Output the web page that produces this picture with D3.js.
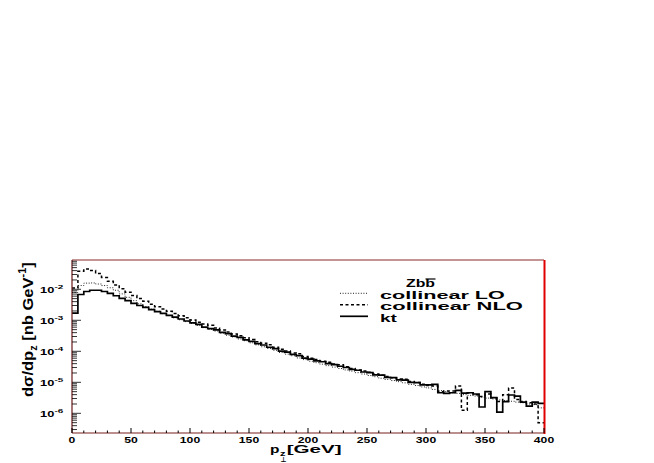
<!DOCTYPE html>
<html>
<head>
<meta charset="utf-8">
<script src="https://cdn.jsdelivr.net/npm/d3@7"></script>
<style>
  html, body { margin: 0; padding: 0; background: #fff; }
  svg { display: block; }
</style>
</head>
<body>
<svg id="chart" width="654" height="463"></svg>
<script>
// ---------------- data ----------------
const binWidth = 5;                     // GeV
const binEdges = d3.range(0, 400 + binWidth, binWidth);
const seriesNames = ["collinear LO", "collinear NLO", "kt"];
const legendHeader = "Zbb";

const collinearLO = [
  7.9e-3, 1.32e-2, 1.58e-2, 1.6e-2, 1.48e-2, 1.32e-2, 1.12e-2, 9.3e-3, 7.1e-3, 5.5e-3,
  4.3e-3, 3.4e-3, 2.75e-3, 2.3e-3, 1.95e-3, 1.64e-3, 1.42e-3, 1.2e-3, 1.04e-3, 9.1e-4,
  7.9e-4, 6.8e-4, 5.8e-4, 5.1e-4, 4.5e-4, 3.85e-4, 3.3e-4, 2.9e-4, 2.5e-4, 2.2e-4,
  1.88e-4, 1.62e-4, 1.4e-4, 1.23e-4, 1.08e-4, 9.2e-5, 8.1e-5, 7.2e-5, 6.1e-5, 5.4e-5,
  4.8e-5, 4.3e-5, 3.85e-5, 3.45e-5, 3.1e-5, 2.8e-5, 2.5e-5, 2.3e-5, 2.05e-5, 1.85e-5,
  1.66e-5, 1.52e-5, 1.35e-5, 1.24e-5, 1.14e-5, 1.05e-5, 9.6e-6, 8.6e-6, 7.9e-6, 7.1e-6,
  6.6e-6, 5.9e-6, 5.4e-6, 5.0e-6, 4.6e-6, 4.4e-6, 4.0e-6, 3.8e-6, 3.6e-6, 3.3e-6,
  3.1e-6, 2.9e-6, 2.7e-6, 2.6e-6, 2.45e-6, 2.3e-6, 2.2e-6, 2.0e-6, 1.9e-6, 1.5e-6
];
const collinearNLO = [
  1.1e-2, 3.8e-2, 4.5e-2, 4.0e-2, 3.2e-2, 2.4e-2, 1.8e-2, 1.38e-2, 1.05e-2, 8.1e-3,
  6.3e-3, 5.0e-3, 4.1e-3, 3.3e-3, 2.75e-3, 2.3e-3, 1.95e-3, 1.66e-3, 1.41e-3, 1.2e-3,
  1.02e-3, 8.7e-4, 7.6e-4, 6.9e-4, 5.6e-4, 4.9e-4, 4.2e-4, 3.6e-4, 3.2e-4, 2.75e-4,
  2.4e-4, 2.05e-4, 1.82e-4, 1.62e-4, 1.35e-4, 1.17e-4, 1.02e-4, 8.9e-5, 8.3e-5, 6.8e-5,
  6.0e-5, 5.4e-5, 4.8e-5, 4.4e-5, 3.9e-5, 3.7e-5, 3.2e-5, 2.8e-5, 2.5e-5, 2.3e-5,
  2.1e-5, 1.86e-5, 1.7e-5, 1.55e-5, 1.4e-5, 1.29e-5, 1.25e-5, 1.07e-5, 9.8e-6, 8.7e-6,
  7.9e-6, 7.6e-6, 5.0e-6, 5.2e-6, 5.2e-6, 7.6e-6, 1.26e-6, 4.5e-6, 4.0e-6, 3.5e-6,
  4.2e-6, 3.2e-6, 2.4e-6, 4.0e-6, 6.5e-6, 2.8e-6, 2.4e-6, 2.2e-6, 2.0e-6, 5.0e-7
];
const kt = [
  1.7e-3, 6.8e-3, 8.5e-3, 9.3e-3, 9.3e-3, 8.5e-3, 7.4e-3, 6.2e-3, 5.1e-3, 4.3e-3,
  3.5e-3, 3.0e-3, 2.6e-3, 2.2e-3, 1.9e-3, 1.66e-3, 1.45e-3, 1.26e-3, 1.1e-3, 9.5e-4,
  8.3e-4, 7.4e-4, 6.0e-4, 5.4e-4, 4.9e-4, 4.1e-4, 3.7e-4, 3.1e-4, 2.8e-4, 2.35e-4,
  2.1e-4, 1.78e-4, 1.6e-4, 1.35e-4, 1.22e-4, 1.02e-4, 9.4e-5, 8.0e-5, 7.3e-5, 6.0e-5,
  5.6e-5, 4.9e-5, 4.6e-5, 4.0e-5, 3.7e-5, 3.3e-5, 3.0e-5, 2.6e-5, 2.45e-5, 2.15e-5,
  2.05e-5, 1.75e-5, 1.7e-5, 1.45e-5, 1.42e-5, 1.2e-5, 1.18e-5, 1.0e-5, 9.8e-6, 8.3e-6,
  8.3e-6, 8.6e-6, 4.6e-6, 4.4e-6, 4.6e-6, 5.5e-6, 4.5e-6, 4.6e-6, 4.2e-6, 1.6e-6,
  5.0e-6, 3.2e-6, 1.1e-6, 2.4e-6, 3.9e-6, 3.6e-6, 2.3e-6, 1.7e-6, 2.3e-6, 2.1e-6
];
const xTickValues = [0, 50, 100, 150, 200, 250, 300, 350, 400];
const xTickLabels = ["0", "50", "100", "150", "200", "250", "300", "350", "400"];
const yTickValues = [1e-2, 1e-3, 1e-4, 1e-5, 1e-6];
const yTickExponents = ["-2", "-3", "-4", "-5", "-6"];

// ---------------- layout ----------------
const FONT = "'Liberation Sans', Arial, Helvetica, sans-serif";
const pL = 72, pR = 544, pT = 260, pB = 433;
const svg = d3.select("#chart");
svg.append("rect").attr("width", 654).attr("height", 463).attr("fill", "#fff");

const x = d3.scaleLinear().domain([0, 400]).range([pL, pR]);
const y = d3.scaleLog().domain([2.32e-7, 8.8e-2]).range([pB, pT]);

// text helper: bold text squeezed/stretched horizontally to a target width
function fitText(g, str, px, py, w, size, anchor, family) {
  const t = g.append("text")
    .attr("font-family", family || FONT).attr("font-weight", "bold")
    .attr("font-size", size).attr("fill", "#000").text(str);
  const bw = t.node().getComputedTextLength();
  const s = w / bw;
  const x0 = anchor === "middle" ? px - w / 2 : anchor === "end" ? px - w : px;
  t.attr("transform", `translate(${x0},${py}) scale(${s},1)`);
  return t;
}

// ---------------- histograms ----------------
function stepPoints(vals) {
  const pts = [];
  vals.forEach((v, i) => {
    pts.push([binEdges[i], v]);
    pts.push([binEdges[i + 1], v]);
  });
  return pts;
}
const line = d3.line().x(d => x(d[0])).y(d => y(d[1]));

const styles = {
  "collinear LO":  { data: collinearLO,  dash: "1,1.6", width: 1.0, color: "#222" },
  "collinear NLO": { data: collinearNLO, dash: "3,2.5", width: 1.5, color: "#000" },
  "kt":            { data: kt,           dash: null,    width: 1.7, color: "#000" }
};

const plot = svg.append("g");
seriesNames.forEach(name => {
  const st = styles[name];
  plot.append("path")
    .attr("d", line(stepPoints(st.data)))
    .attr("fill", "none")
    .attr("stroke", st.color)
    .attr("stroke-width", st.width)
    .attr("stroke-dasharray", st.dash);
});

// ---------------- frame & axes ----------------
const axes = svg.append("g");
axes.append("line").attr("x1", pL).attr("x2", pR).attr("y1", pT).attr("y2", pT)
  .attr("stroke", "#8a2a2a").attr("stroke-width", 1);
axes.append("line").attr("x1", pL).attr("x2", pL).attr("y1", pT).attr("y2", pB)
  .attr("stroke", "#6a1a1a").attr("stroke-width", 1.2);
axes.append("line").attr("x1", pL).attr("x2", pR).attr("y1", pB).attr("y2", pB)
  .attr("stroke", "#7a2020").attr("stroke-width", 1.2);
axes.append("line").attr("x1", pR + 0.5).attr("x2", pR + 0.5).attr("y1", pT).attr("y2", pB + 1)
  .attr("stroke", "#e00000").attr("stroke-width", 2);

// x ticks
d3.range(0, 401, 10).forEach(v => {
  const major = v % 50 === 0;
  axes.append("line")
    .attr("x1", x(v)).attr("x2", x(v))
    .attr("y1", pB).attr("y2", pB - (major ? 5 : 2.5))
    .attr("stroke", "#000").attr("stroke-width", 1);
});
xTickValues.forEach((v, i) => {
  const w = xTickLabels[i].length * 6.8;
  fitText(axes, xTickLabels[i], x(v), 442.5, w, 9.5, "middle");
});

// y ticks (log)
const [yLo, yHi] = y.domain();
for (let n = -7; n <= -1; n++) {
  for (let k = 1; k <= 9; k++) {
    const v = k * Math.pow(10, n);
    if (v < yLo || v > yHi) continue;
    const major = k === 1;
    axes.append("line")
      .attr("x1", pL).attr("x2", pL + (major ? 9 : 5))
      .attr("y1", y(v)).attr("y2", y(v))
      .attr("stroke", "#000").attr("stroke-width", 0.8);
  }
}
yTickValues.forEach((v, i) => {
  const yy = y(v);
  fitText(axes, "10", 40, yy + 3.4, 14.3, 8.5, "start");
  fitText(axes, yTickExponents[i], 54.5, yy - 0.3, 8.8, 6, "start");
});

// y title (rotated)
const yt = svg.append("g").attr("transform", "translate(33,397) rotate(-90)");
const ytText = yt.append("text")
  .attr("font-family", FONT).attr("font-weight", "bold").attr("font-size", 15).attr("fill", "#000");
ytText.append("tspan").text("dσ/dp");
ytText.append("tspan").attr("font-size", 10).attr("dy", 4).text("z");
ytText.append("tspan").attr("dy", -4).text(" [nb GeV");
ytText.append("tspan").attr("font-size", 10).attr("dy", -7).text("-1");
ytText.append("tspan").attr("dy", 7).text("]");
const ytLen = ytText.node().getComputedTextLength();
ytText.attr("transform", `scale(${135 / ytLen},1)`);

// x title
const xt = svg.append("g");
fitText(xt, "p", 270, 453, 9.5, 10.5, "start");
fitText(xt, "z", 280, 455.5, 5.5, 7.5, "start");
fitText(xt, "⊥", 280.5, 462, 6, 7, "start", "'DejaVu Sans', sans-serif");
fitText(xt, "[GeV]", 286.7, 453, 55, 10.5, "start");

// ---------------- legend ----------------
const lg = svg.append("g");
fitText(lg, legendHeader, 406, 287, 29, 10, "start");
lg.append("line").attr("x1", 425.5).attr("x2", 435.5).attr("y1", 279).attr("y2", 279)
  .attr("stroke", "#000").attr("stroke-width", 1.2);

const legendRows = [
  { name: "collinear LO",  ly: 293.3, ty: 298.5, w: 125 },
  { name: "collinear NLO", ly: 304.8, ty: 310.0, w: 143 },
  { name: "kt",            ly: 316.3, ty: 321.5, w: 17 }
];
legendRows.forEach(r => {
  const st = styles[r.name];
  lg.append("line")
    .attr("x1", 340).attr("x2", 368).attr("y1", r.ly).attr("y2", r.ly)
    .attr("stroke", st.color).attr("stroke-width", st.width)
    .attr("stroke-dasharray", st.dash);
  fitText(lg, r.name, 380, r.ty, r.w, 10, "start");
});
</script>
</body>
</html>
